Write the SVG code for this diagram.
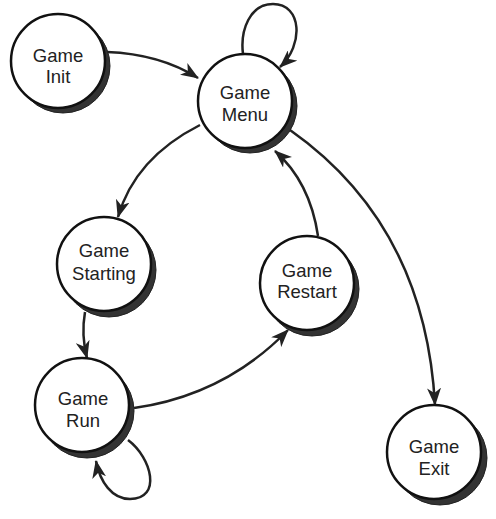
<svg xmlns="http://www.w3.org/2000/svg" width="496" height="519" viewBox="0 0 496 519">
<style>
.sh{fill:#333;stroke:#222;stroke-width:1}
.nc{fill:#fff;stroke:#111;stroke-width:2.5}
.lb{font-family:"Liberation Sans",Arial,sans-serif;font-size:18.5px;fill:#222;text-anchor:middle}
.ed{fill:none;stroke:#222;stroke-width:2.5;marker-end:url(#ah)}
</style>
<defs>
<marker id="ah" viewBox="0 0 18 14" refX="17" refY="7" markerWidth="18" markerHeight="14" markerUnits="userSpaceOnUse" orient="auto">
<path d="M0,0 L18,7 L0,14 L5,7 z" fill="#222"/>
</marker>
</defs>
<rect width="496" height="519" fill="#fff"/>
<g id="connectors">
<path class="ed" d="M107,52 Q160,54 198,78"/>
<path class="ed" d="M243,54 C240,30 250,4 273,4 C302,4 304,45 280,67"/>
<path class="ed" d="M200,125 Q135,158 118,217"/>
<path class="ed" d="M85,312 Q81,335 87,358"/>
<path class="ed" d="M134,408 Q225,395 288,330"/>
<path class="ed" d="M318,236 Q310,182 275,151"/>
<path class="ed" d="M290,130 Q425,225 435,405"/>
<path class="ed" d="M128,440 C152,458 162,499 130,499 C112,499 100,482 96,461"/>
</g>
<g id="game-init">
<circle class="sh" cx="63" cy="66" r="47"/>
<circle class="nc" cx="58" cy="61" r="47"/>
<text class="lb" x="58" y="62">Game</text>
<text class="lb" x="58" y="83">Init</text>
</g>
<g id="game-menu">
<circle class="sh" cx="250" cy="106" r="47"/>
<circle class="nc" cx="245" cy="101" r="47"/>
<text class="lb" x="245" y="99">Game</text>
<text class="lb" x="245" y="121">Menu</text>
</g>
<g id="game-starting">
<circle class="sh" cx="109" cy="270" r="47"/>
<circle class="nc" cx="104" cy="264" r="47"/>
<text class="lb" x="104" y="257">Game</text>
<text class="lb" x="104" y="280">Starting</text>
</g>
<g id="game-restart">
<circle class="sh" cx="312" cy="289" r="47"/>
<circle class="nc" cx="307" cy="283" r="47"/>
<text class="lb" x="307" y="277">Game</text>
<text class="lb" x="307" y="298">Restart</text>
</g>
<g id="game-run">
<circle class="sh" cx="87" cy="411" r="47"/>
<circle class="nc" cx="82" cy="405" r="47"/>
<text class="lb" x="83" y="405">Game</text>
<text class="lb" x="83" y="427">Run</text>
</g>
<g id="game-exit">
<circle class="sh" cx="440" cy="458" r="47"/>
<circle class="nc" cx="434" cy="452" r="47"/>
<text class="lb" x="434" y="453">Game</text>
<text class="lb" x="434" y="475">Exit</text>
</g>
</svg>
